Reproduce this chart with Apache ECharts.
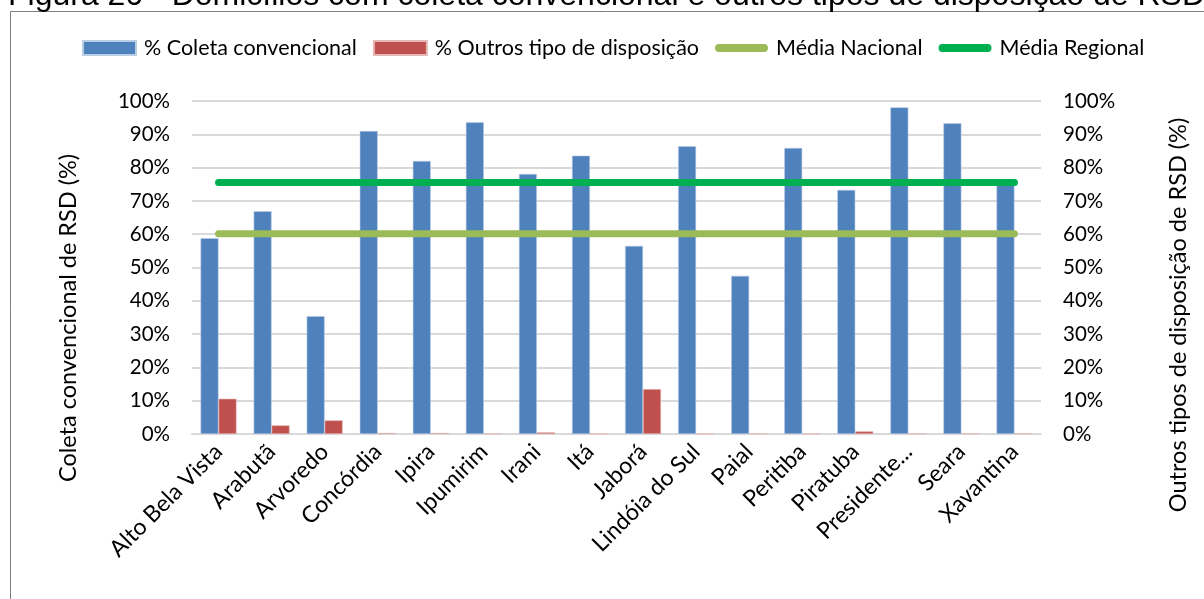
<!DOCTYPE html>
<html>
<head>
<meta charset="utf-8">
<script src="https://cdn.jsdelivr.net/npm/echarts@6/dist/echarts.min.js"></script>
<style>
  html, body { margin: 0; padding: 0; background: #fff; }
  #main { width: 1204px; height: 599px; }
</style>
</head>
<body>
<div id="main"></div>
<script>
// municipios
var municipios = ['Alto Bela Vista', 'Arabutã', 'Arvoredo', 'Concórdia', 'Ipira', 'Ipumirim', 'Irani', 'Itá',
  'Jaborá', 'Lindóia do Sul', 'Paial', 'Peritiba', 'Piratuba', 'Presidente...', 'Seara', 'Xavantina'];
// % coleta convencional
var coletaConvencional = [58.8, 66.9, 35.4, 91.0, 82.0, 93.6, 78.1, 83.6, 56.5, 86.4, 47.5, 85.9, 73.3, 98.1, 93.3, 75.3];
// % outros tipos de disposicao
var outrosTipos = [10.6, 2.6, 4.1, 0.3, 0.3, 0, 0.5, 0, 13.5, 0, 0.1, 0, 0.8, 0.1, 0.1, 0.2];
var mediaNacional = municipios.map(function () { return 60.1; });
var mediaRegional = municipios.map(function () { return 75.5; });

var fonte = 'Lato, "Noto Sans", sans-serif';
// icone de linha grossa arredondada para a legenda
var iconeLinha = 'path://M0,0 M53,14 M4,3 L49,3 A4,4 0 0 1 49,11 L4,11 A4,4 0 0 1 4,3 Z';

var myChart = echarts.init(document.getElementById('main'));
var option = {
  animation: false,
  textStyle: { fontFamily: fonte },
  graphic: [
    {
      type: 'rect', left: 8, top: 9, z: -1,
      shape: { width: 1300, height: 700 },
      style: { fill: 'none', stroke: '#7f7f7f', lineWidth: 1 }
    },
    {
      type: 'text', x: 8, y: 12,
      style: {
        text: 'Figura 20 - Domicílios com coleta convencional e outros tipos de disposição de RSD',
        font: '32px "Liberation Sans", Arial, sans-serif', fill: '#000',
        verticalAlign: 'bottom'
      }
    },
    {
      type: 'text', x: 68, y: 318, rotation: Math.PI / 2,
      style: {
        text: 'Coleta convencional de RSD (%)', font: '23.5px ' + fonte, fill: '#000',
        align: 'center', verticalAlign: 'middle'
      }
    },
    {
      type: 'text', x: 1178, y: 315, rotation: Math.PI / 2,
      style: {
        text: 'Outros tipos de disposição de RSD (%)', font: '23.5px ' + fonte, fill: '#000',
        align: 'center', verticalAlign: 'middle'
      }
    }
  ],
  legend: {
    top: 37,
    left: 82,
    padding: 0,
    itemGap: 16,
    itemWidth: 53,
    itemHeight: 14,
    textStyle: { fontSize: 21.5, color: '#000', fontFamily: fonte, padding: [0, 0, 0, 3] },
    data: [
      { name: '% Coleta convencional', icon: 'rect' },
      { name: '% Outros tipo de disposição', icon: 'rect' },
      { name: 'Média Nacional', icon: iconeLinha },
      { name: 'Média Regional', icon: iconeLinha }
    ]
  },
  grid: { left: 192, right: 163, top: 101, bottom: 165 },
  xAxis: {
    type: 'category',
    data: municipios,
    axisTick: { show: false },
    axisLine: { lineStyle: { color: '#d9d9d9', width: 2 } },
    axisLabel: { interval: 0, rotate: 45, fontSize: 23, color: '#000', margin: 14 }
  },
  yAxis: [
    {
      type: 'value', min: 0, max: 100, interval: 10,
      axisLine: { show: false }, axisTick: { show: false },
      axisLabel: { formatter: '{value}%', fontSize: 20.5, color: '#000', margin: 22 },
      splitLine: { lineStyle: { color: '#d9d9d9', width: 2 } }
    },
    {
      type: 'value', min: 0, max: 100, interval: 10,
      axisLine: { show: false }, axisTick: { show: false },
      axisLabel: { formatter: '{value}%', fontSize: 20.5, color: '#000', margin: 22 },
      splitLine: { show: false }
    }
  ],
  series: [
    {
      name: '% Coleta convencional', type: 'bar', data: coletaConvencional,
      barWidth: 18, barGap: '0%',
      itemStyle: { color: '#4F81BD', borderColor: '#b9cde5', borderWidth: 0.6 }
    },
    {
      name: '% Outros tipo de disposição', type: 'bar', yAxisIndex: 1, data: outrosTipos,
      barWidth: 18, barGap: '0%',
      itemStyle: { color: '#C0504D', borderColor: '#e6b9b8', borderWidth: 0.6 }
    },
    {
      name: 'Média Nacional', type: 'line', data: mediaNacional,
      symbol: 'none', z: 5,
      lineStyle: { color: '#9BBB59', width: 7, cap: 'round' },
      itemStyle: { color: '#9BBB59' }
    },
    {
      name: 'Média Regional', type: 'line', data: mediaRegional,
      symbol: 'none', z: 5,
      lineStyle: { color: '#00B050', width: 7, cap: 'round' },
      itemStyle: { color: '#00B050' }
    }
  ]
};
option && myChart.setOption(option);
</script>
</body>
</html>
